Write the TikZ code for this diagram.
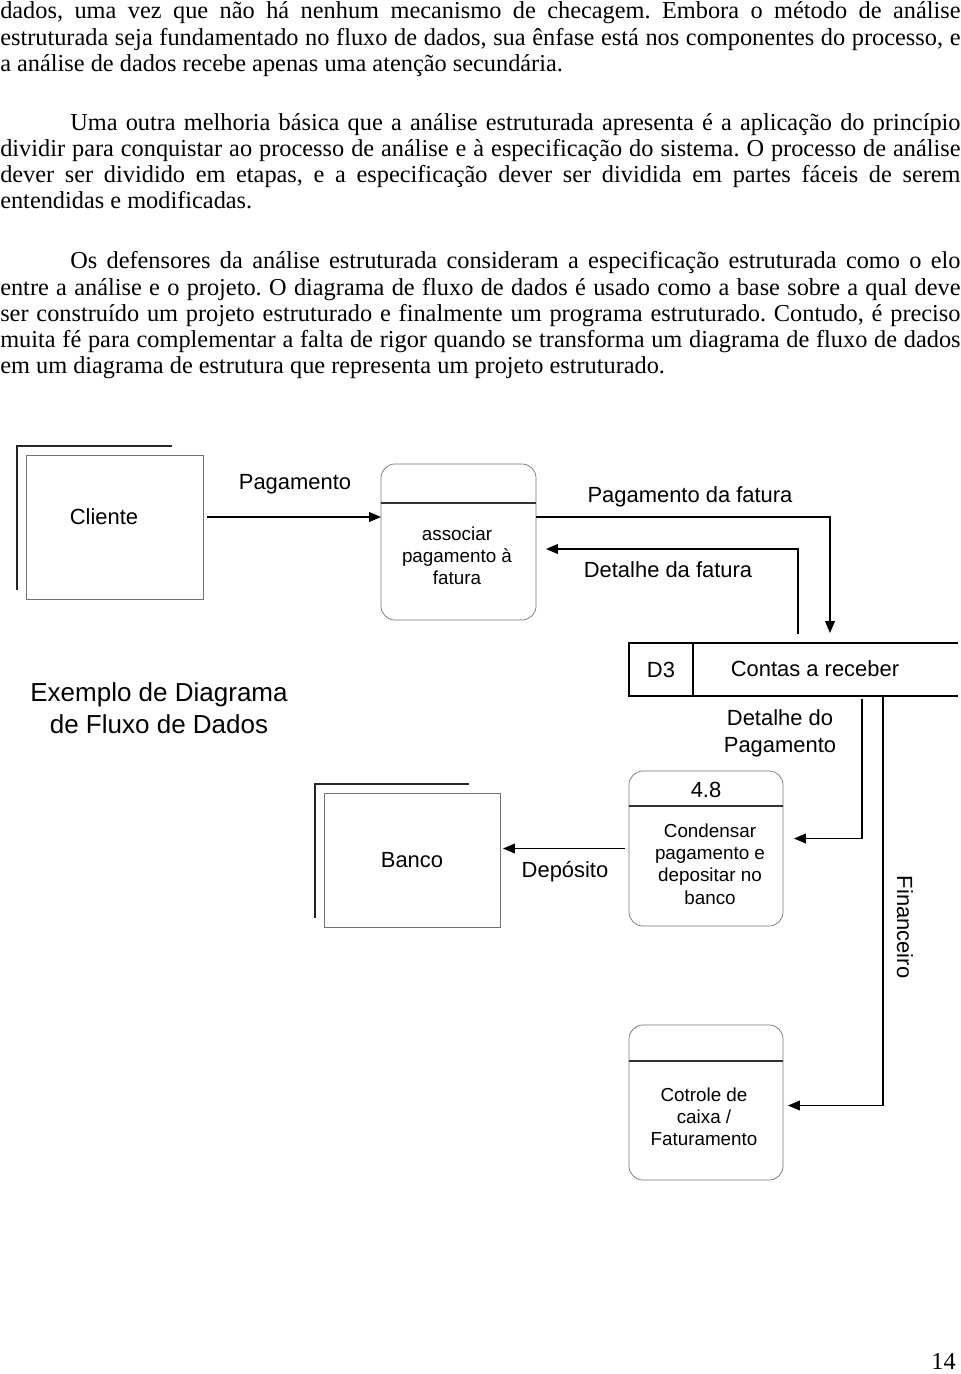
\documentclass[tikz,border=0pt]{standalone}
\usepackage{fontspec}
\setmainfont{Liberation Serif}
\newfontfamily\arial{Liberation Sans}
\usetikzlibrary{positioning, arrows.meta}
\frenchspacing

\newcommand{\jline}[1]{\makebox[24cm][s]{#1}}
\newcommand{\jlinein}[1]{\makebox[22.25cm][s]{#1}}

\tikzset{
  body/.style={font=\fontsize{17.3}{20}\selectfont, anchor=base west, inner sep=0},
  lbl/.style={font=\arial\fontsize{15.6}{19.2}\selectfont, align=center},
  small/.style={font=\arial\fontsize{13.4}{15.8}\selectfont, align=center},
  big/.style={font=\arial\fontsize{18.5}{22.7}\selectfont, align=center},
  entity/.style={draw=black!55, line width=0.5pt, inner sep=0, outer sep=0},
  process/.style={draw=black!55, line width=0.5pt, rounded corners=10pt,
    minimum width=3.85cm, minimum height=3.875cm, inner sep=0, outer sep=0},
  shadowline/.style={line width=1.3pt, black!85},
  divider/.style={line width=1.1pt, black!80},
  storeline/.style={line width=0.8pt},
  flow/.style={-{Triangle[length=8.5pt,width=7pt]}, line width=0.9pt}
}

\begin{document}
\begin{tikzpicture}[x=0.025cm, y=-0.025cm]
\useasboundingbox (0,0) rectangle (960,1374);

% texto da pagina
\node[body] (l1) at (0,19) {\jline{dados, uma vez que não há nenhum mecanismo de checagem. Embora o método de análise}};
\node[body] (l2) at (0,45) {\jline{estruturada seja fundamentado no fluxo de dados, sua ênfase está nos componentes do processo, e}};
\node[body] (l3) at (0,71) {a análise de dados recebe apenas uma atenção secundária.};
\node[body] (l4) at (70,130) {\jlinein{Uma outra melhoria básica que a análise estruturada apresenta é a aplicação do princípio}};
\node[body] (l5) at (0,156) {\jline{dividir para conquistar ao processo de análise e à especificação do sistema. O processo de análise}};
\node[body] (l6) at (0,182) {\jline{dever ser dividido em etapas, e a especificação dever ser dividida em partes fáceis de serem}};
\node[body] (l7) at (0,208) {entendidas e modificadas.};
\node[body] (l8) at (70,268) {\jlinein{Os defensores da análise estruturada consideram a especificação estruturada como o elo}};
\node[body] (l9) at (0,295) {\jline{entre a análise e o projeto. O diagrama de fluxo de dados é usado como a base sobre a qual deve}};
\node[body] (l10) at (0,321) {\jline{ser construído um projeto estruturado e finalmente um programa estruturado. Contudo, é preciso}};
\node[body] (l11) at (0,347) {\jline{muita fé para complementar a falta de rigor quando se transforma um diagrama de fluxo de dados}};
\node[body] (l12) at (0,373) {em um diagrama de estrutura que representa um projeto estruturado.};
\node[body, anchor=base east] (pagina) at (956,1369) {14};

% entidades externas
\node[entity, minimum width=4.425cm, minimum height=3.6cm] (cliente) at (114.5,527) {};
\node[lbl] (clientetxt) at (104,517) {Cliente};
\node[entity, minimum width=4.4cm, minimum height=3.35cm, lbl] (banco) at (412,860) {Banco};
\foreach \e in {cliente, banco}
  \draw[shadowline] ([shift={(-9,-9)}]\e.south west) -- ([shift={(-9,-9)}]\e.north west)
    -- ([shift={(-31,-9)}]\e.north east);

% processos
\node[process, minimum width=3.875cm, minimum height=3.9cm] (assoc) at (458.5,542) {};
\node[process] (p48) at (706,848.5) {};
\node[process] (caixa) at (706,1102.5) {};
\foreach \p/\d in {assoc/39, p48/35, caixa/36}
  \draw[divider] ([shift={(0,\d)}]\p.north west) -- ([shift={(0,\d)}]\p.north east);
\node[small] (assoctxt) at (457,556) {associar\\pagamento à\\fatura};
\node[lbl] (id48) at (706,790) {4.8};
\node[small] (t48) at (710,864) {Condensar\\pagamento e\\depositar no\\banco};
\node[small] (caixatxt) at (704,1117) {Cotrole de\\caixa /\\Faturamento};

% deposito de dados
\node[draw, storeline, minimum width=1.6cm, minimum height=1.325cm, inner sep=0, outer sep=0, lbl] (d3) at (661,669.5) {D3};
\draw[storeline] (d3.north east) -- ++(265,0);
\draw[storeline] (d3.south east) -- ++(265,0);
\node[lbl] (contas) at (815,669) {Contas a receber};

\node[big] (titulo) at (159,708) {Exemplo de Diagrama\\de Fluxo de Dados};

% fluxos
\coordinate (pf) at (830,633);
\coordinate (df) at (798,634);
\coordinate (dp) at (862,699);
\coordinate (fin) at (883,696);

\draw[flow] ([shift={(4,-10)}]cliente.east) coordinate (a1) -- (a1 -| assoc.west);
\draw[flow] (a1 -| assoc.east) -| (pf);
\draw[flow] (df) |- ([shift={(10,7)}]assoc.east);
\draw[flow] (dp) |- ([shift={(11,-10)}]p48.east);
\draw[flow] ([shift={(-4,0)}]p48.west) coordinate (a4) -- ([shift={(3,0)}]a4 -| banco.east);
\draw[flow] (fin) |- ([shift={(5,3)}]caixa.east);

\node[lbl] (pagtxt) at (295,484) {Pagamento};
\node[lbl] (pagfat) at (690,497) {Pagamento da fatura};
\node[lbl] (detfat) at (668,570) {Detalhe da fatura};
\node[lbl] (detpag) at (780,733) {Detalhe do\\Pagamento};
\node[lbl] (deptxt) at (565,872) {Depósito};
\node[lbl, rotate=-90] (fintxt) at (905,927) {Financeiro};

\end{tikzpicture}
\end{document}
